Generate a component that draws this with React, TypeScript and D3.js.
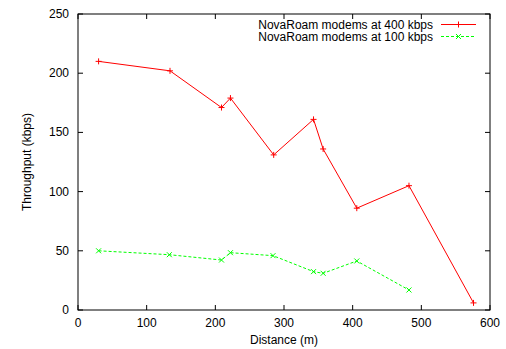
import React from "react";
import * as d3 from "d3";

const distance400 = [30, 134, 209, 222, 285, 343, 357, 406, 482, 576];
const throughput400 = [210, 202, 171, 179, 131, 161, 136, 86, 105, 6];
const distance100 = [30, 133, 209, 222, 284, 343, 357, 406, 482];
const throughput100 = [50, 46.7, 42.2, 48.4, 45.9, 32.4, 31, 41.4, 16.9];
const xTicks = [0, 100, 200, 300, 400, 500, 600];
const yTicks = [0, 50, 100, 150, 200, 250];
const seriesLabels = ["NovaRoam modems at 400 kbps", "NovaRoam modems at 100 kbps"];

const W = 506;
const H = 349;
const M = { left: 78, right: 16, top: 14, bottom: 39 };
const FONT = "Liberation Sans, Arial, Helvetica, sans-serif";
const FS = 12;

export default function App() {
  const x = d3.scaleLinear().domain([0, 600]).range([M.left, W - M.right]);
  const y = d3.scaleLinear().domain([0, 250]).range([H - M.bottom, M.top]);
  const tick = 5;

  const s400 = distance400.map((d, i) => [d, throughput400[i]] as [number, number]);
  const s100 = distance100.map((d, i) => [d, throughput100[i]] as [number, number]);
  const line = d3
    .line<[number, number]>()
    .x((d) => x(d[0]))
    .y((d) => y(d[1]));

  const plus = (cx: number, cy: number, color: string, k: string) => (
    <path key={k} d={`M${cx - 3},${cy}H${cx + 3}M${cx},${cy - 3}V${cy + 3}`} stroke={color} strokeWidth={1} />
  );
  const cross = (cx: number, cy: number, color: string, k: string) => (
    <path
      key={k}
      d={`M${cx - 2.5},${cy - 2.5}L${cx + 2.5},${cy + 2.5}M${cx - 2.5},${cy + 2.5}L${cx + 2.5},${cy - 2.5}`}
      stroke={color}
      strokeWidth={1}
    />
  );

  const [x0, x1] = x.range();
  const [y0, y1] = y.range();
  const red = "#ff0000";
  const green = "#00ff00";

  const legendTextX = 433;
  const legendLine = [441, 476];
  const legendY = [24.5, 36.5];

  return (
    <svg width={W} height={H} style={{ position: "absolute", left: 0, top: 0 }} fontFamily={FONT}>
      <rect width={W} height={H} fill="#fff" />
      {/* ticks on all four sides */}
      {xTicks.map((t) => (
        <g key={"xt" + t} stroke="#000" strokeWidth={1}>
          <line x1={x(t)} x2={x(t)} y1={y0} y2={y0 - tick} />
          <line x1={x(t)} x2={x(t)} y1={y1} y2={y1 + tick} />
        </g>
      ))}
      {yTicks.map((t) => (
        <g key={"yt" + t} stroke="#000" strokeWidth={1}>
          <line x1={x0} x2={x0 + tick} y1={y(t)} y2={y(t)} />
          <line x1={x1} x2={x1 - tick} y1={y(t)} y2={y(t)} />
        </g>
      ))}
      {xTicks.map((t) => (
        <text key={"xl" + t} x={x(t)} y={y0 + 17} fontSize={FS} textAnchor="middle" fill="#000">
          {t}
        </text>
      ))}
      {yTicks.map((t) => (
        <text key={"yl" + t} x={x0 - 9} y={y(t) + 4} fontSize={FS} textAnchor="end" fill="#000">
          {t}
        </text>
      ))}
      <text x={(x0 + x1) / 2} y={H - 5} fontSize={FS} textAnchor="middle" fill="#000">
        Distance (m)
      </text>
      <text
        transform={`translate(31,${(y0 + y1) / 2}) rotate(-90)`}
        fontSize={FS}
        textAnchor="middle"
        fill="#000"
      >
        Throughput (kbps)
      </text>

      {/* series */}
      <path d={line(s400) ?? ""} fill="none" stroke={red} strokeWidth={1} />
      {s400.map((d, i) => plus(x(d[0]), y(d[1]), red, "p" + i))}
      <path d={line(s100) ?? ""} fill="none" stroke={green} strokeWidth={1} strokeDasharray="3,2" />
      {s100.map((d, i) => cross(x(d[0]), y(d[1]), green, "c" + i))}

      {/* legend */}
      <text x={legendTextX} y={legendY[0] + 4} fontSize={FS} textAnchor="end" fill="#000">
        {seriesLabels[0]}
      </text>
      <line x1={legendLine[0]} x2={legendLine[1]} y1={legendY[0]} y2={legendY[0]} stroke={red} />
      {plus((legendLine[0] + legendLine[1]) / 2, legendY[0], red, "lp")}
      <text x={legendTextX} y={legendY[1] + 4} fontSize={FS} textAnchor="end" fill="#000">
        {seriesLabels[1]}
      </text>
      <line
        x1={legendLine[0]}
        x2={legendLine[1]}
        y1={legendY[1]}
        y2={legendY[1]}
        stroke={green}
        strokeDasharray="3,2"
      />
      {cross((legendLine[0] + legendLine[1]) / 2, legendY[1], green, "lc")}

      {/* frame */}
      <rect x={x0} y={y1} width={x1 - x0} height={y0 - y1} fill="none" stroke="#000" strokeWidth={1} />
    </svg>
  );
}
